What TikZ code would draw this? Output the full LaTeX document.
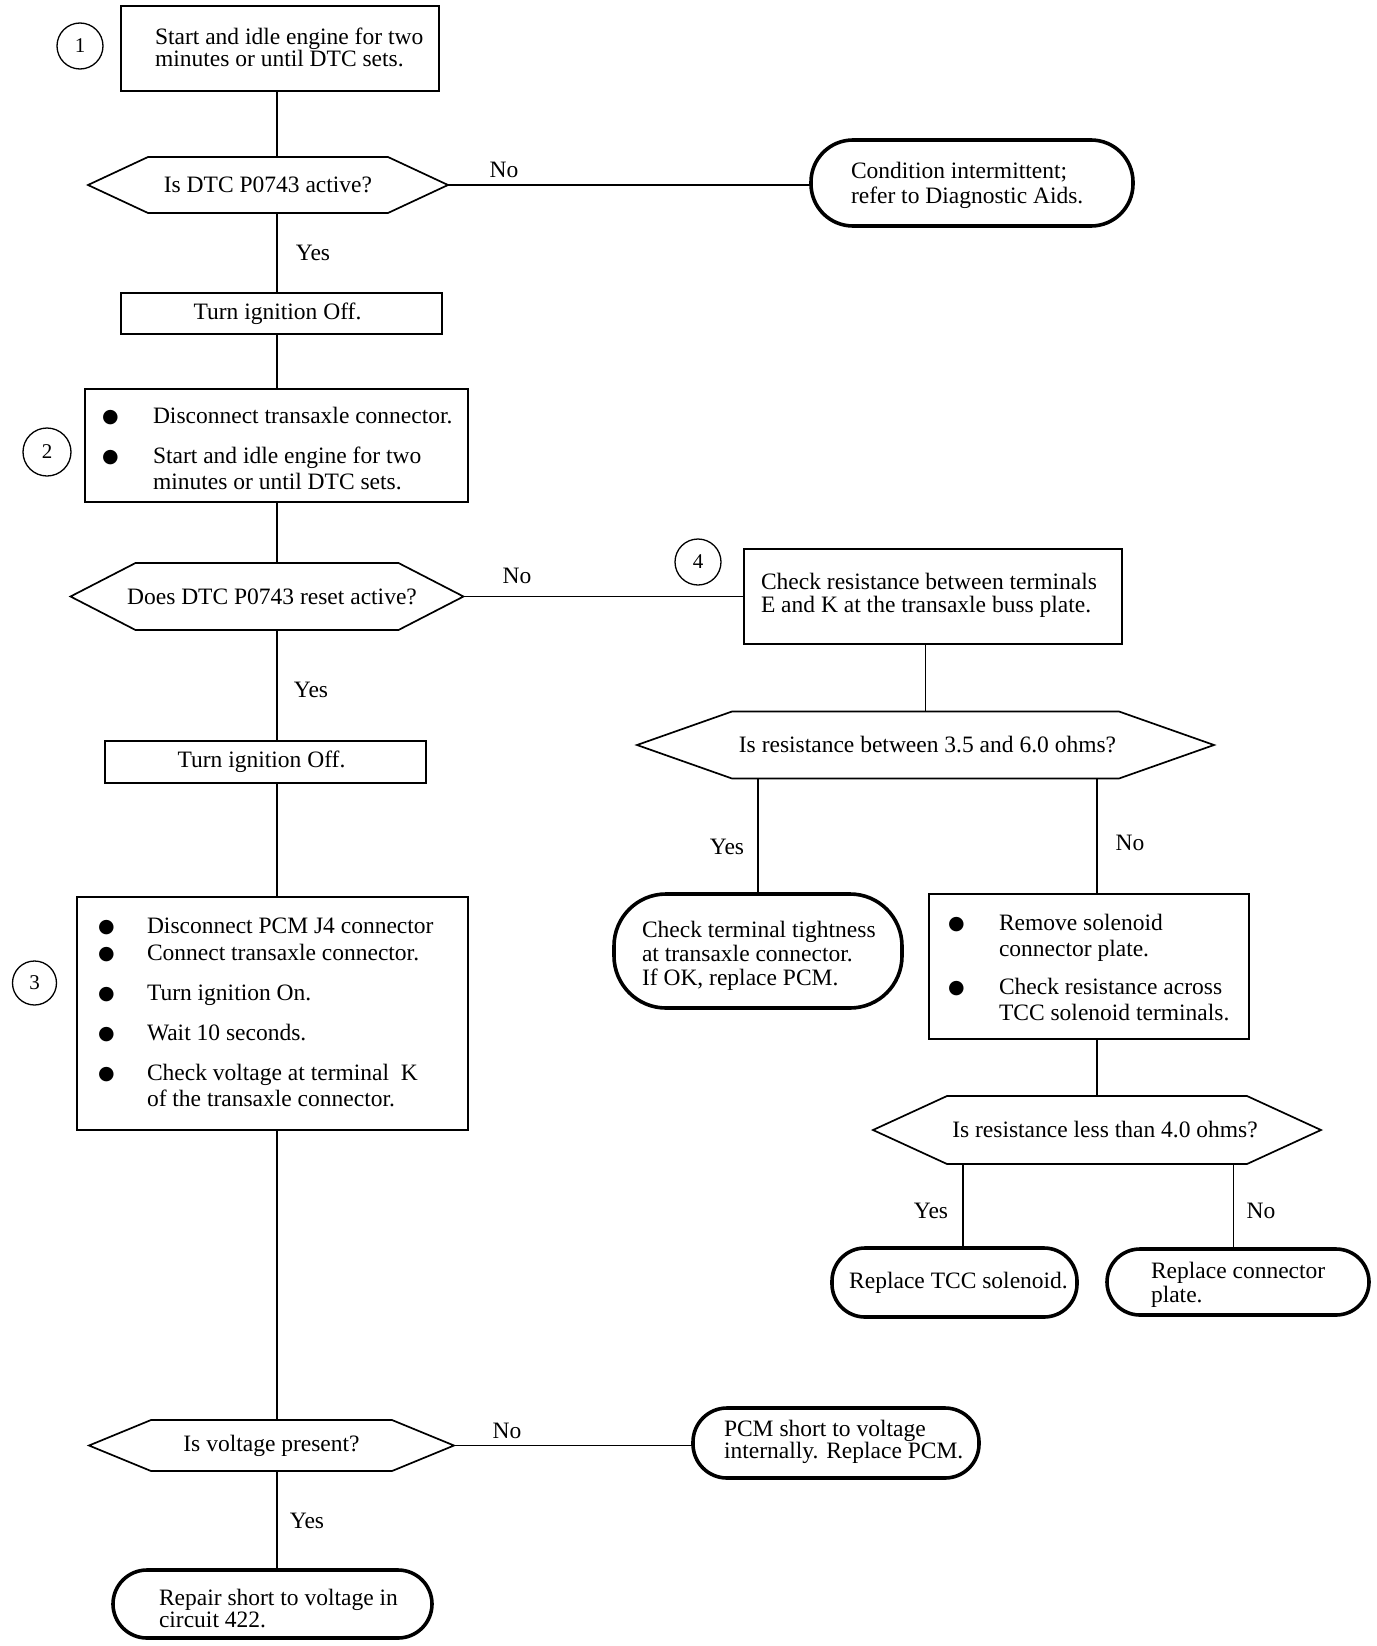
\documentclass[tikz,border=0pt]{standalone}
\usepackage{fontspec}
\setmainfont{Liberation Serif}
\newfontfamily\bulfont{DejaVu Sans}
\newcommand{\bul}{\raisebox{1pt}{\bulfont\fontsize{19}{19}\selectfont ●}}
\tikzset{
  txt/.style={font=\fontsize{23.5}{#1}\selectfont, inner sep=0pt, outer sep=0pt, align=left},
  txt/.default=24,
  conn/.style={line width=1.6pt},
  stepbox/.style={draw, line width=1.7pt, inner sep=0pt, outer sep=0pt, font=\fontsize{23.5}{24}\selectfont},
  term/.style={draw, line width=3.6pt, inner sep=0pt, outer sep=0pt, rounded corners=#1, font=\fontsize{23.5}{24}\selectfont},
  hexnode/.style={inner sep=0pt, outer sep=0pt, font=\fontsize{23.5}{24}\selectfont},
  hexline/.style={line width=1.7pt, line join=miter},
  numcirc/.style={draw, circle, line width=1.3pt, inner sep=0pt, minimum size=#1, font=\fontsize{21}{21}\selectfont},
  lbl/.style={inner sep=0pt, font=\fontsize{23.5}{24}\selectfont}
}
\newcommand{\hexdraw}[2]{\draw[hexline] (#1.west) -- ([xshift=#2pt]#1.north west) -- ([xshift=-#2pt]#1.north east) -- (#1.east) -- ([xshift=-#2pt]#1.south east) -- ([xshift=#2pt]#1.south west) -- cycle;}
\begin{document}
\begin{tikzpicture}[x=1pt,y=-1pt]
\useasboundingbox (0,0) rectangle (1376,1646);
\fill[white] (0,0) rectangle (1376,1646);

% spine and branch coordinates
\coordinate (sp) at (277,0);
\coordinate (y4) at (963,0);
\coordinate (n4) at (1233.5,0);

% boxes
\node[stepbox, minimum width=318pt, minimum height=85pt] (b1) at (280,48.5) {};
\node[txt=22, anchor=west] (b1t) at (155,47) {Start and idle engine for two\\minutes or until DTC sets.};
\node[numcirc=46pt] (c1) at (80,46) {1};

\node[hexnode, minimum width=360pt, minimum height=56pt] (h1) at (268,185) {Is DTC P0743 active?};
\hexdraw{h1}{60}

\node[term=42pt, minimum width=322pt, minimum height=86pt] (t1) at (972,183) {};
\node[txt=25, anchor=west] (t1t) at (851,185) {Condition intermittent;\\refer to Diagnostic Aids.};

\node[stepbox, minimum width=321pt, minimum height=41pt] (off1) at (281.5,313.5) {\hspace*{-8pt}Turn ignition Off.};

\node[stepbox, minimum width=383pt, minimum height=113pt] (b2) at (276.5,445.5) {};
\node[txt=26, anchor=west] (b2t) at (102,451) {\begin{tabular}{@{}p{51pt}@{}l@{}}
\bul & Disconnect transaxle connector.\\[13.6pt]
\bul & Start and idle engine for two\\
 & minutes or until DTC sets.
\end{tabular}};
\node[numcirc=48pt] (c2) at (47,452) {2};

\node[hexnode, minimum width=393pt, minimum height=67pt] (h2) at (267,596.5) {\hspace*{10pt}Does DTC P0743 reset active?};
\hexdraw{h2}{65}

\node[numcirc=46pt] (c4) at (698,562) {4};
\node[stepbox, minimum width=378pt, minimum height=95pt] (b4) at (933,596.5) {};
\node[txt=23, anchor=west] (b4t) at (761,595) {Check resistance between terminals\\E and K at the transaxle buss plate.};

\node[hexnode, minimum width=577pt, minimum height=67pt] (h3) at (925.5,745) {\hspace*{4pt}Is resistance between 3.5 and 6.0 ohms?};
\hexdraw{h3}{95}

\node[term=52pt, minimum width=288pt, minimum height=114pt] (t2) at (758,951) {};
\node[txt=24, anchor=west] (t2t) at (642,956) {Check terminal tightness\\at transaxle connector.\\If OK, replace PCM.};

\node[stepbox, minimum width=320pt, minimum height=145pt] (b5) at (1089,966.5) {};
\node[txt=26, anchor=west] (b5t) at (948,970) {\begin{tabular}{@{}p{51pt}@{}l@{}}
\bul & Remove solenoid\\
 & connector plate.\\[12pt]
\bul & Check resistance across\\
 & TCC solenoid terminals.
\end{tabular}};

\node[hexnode, minimum width=448pt, minimum height=68pt] (h4) at (1097,1130) {\hspace*{16pt}Is resistance less than 4.0 ohms?};
\hexdraw{h4}{74}

\node[term=33pt, minimum width=245pt, minimum height=69pt] (t3) at (954.5,1282.5) {\hspace*{8pt}Replace TCC solenoid.};
\node[term=33pt, minimum width=262pt, minimum height=66pt] (t4) at (1238,1282) {};
\node[txt=24, anchor=west] (t4t) at (1151,1285) {Replace connector\\plate.};

\node[stepbox, minimum width=321pt, minimum height=42pt] (off2) at (265.5,762) {\hspace*{-8pt}Turn ignition Off.};

\node[stepbox, minimum width=391pt, minimum height=233pt] (b3) at (272.5,1013.5) {};
\node[txt=26.5, anchor=west] (b3t) at (98,1015) {\begin{tabular}{@{}p{49pt}@{}l@{}}
\bul & Disconnect PCM J4 connector\\
\bul & Connect transaxle connector.\\[13.5pt]
\bul & Turn ignition On.\\[13.5pt]
\bul & Wait 10 seconds.\\[13.5pt]
\bul & Check voltage at terminal\ \ K\\
 & of the transaxle connector.
\end{tabular}};
\node[numcirc=44pt] (c3) at (34.5,983) {3};

\node[hexnode, minimum width=365pt, minimum height=51pt] (h5) at (271.5,1445.5) {Is voltage present?};
\hexdraw{h5}{62}

\node[term=34pt, minimum width=286pt, minimum height=70pt] (t5) at (836,1443) {};
\node[txt=22, anchor=west] (t5t) at (724,1442) {PCM short to voltage\\internally. Replace PCM.};

\node[term=34pt, minimum width=319pt, minimum height=68pt] (t6) at (272.5,1604) {};
\node[txt=22, anchor=west] (t6t) at (159,1608) {Repair short to voltage in\\circuit 422.};

% labels
\node[lbl] (l1) at (504,170) {No};
\node[lbl] (l2) at (313,253) {Yes};
\node[lbl] (l3) at (517,576) {No};
\node[lbl] (l4) at (311,690) {Yes};
\node[lbl] (l5) at (727,847) {Yes};
\node[lbl] (l6) at (1130,843) {No};
\node[lbl] (l7) at (931,1211) {Yes};
\node[lbl] (l8) at (1261,1211) {No};
\node[lbl] (l9) at (507,1431) {No};
\node[lbl] (l10) at (307,1521) {Yes};

% connectors
\draw[conn] (b1.south -| sp) -- (h1.north -| sp);
\draw[conn] (h1.south -| sp) -- (off1.north -| sp);
\draw[conn] (off1.south -| sp) -- (b2.north -| sp);
\draw[conn] (b2.south -| sp) -- (h2.north -| sp);
\draw[conn] (h2.south -| sp) -- (off2.north -| sp);
\draw[conn] (off2.south -| sp) -- (b3.north -| sp);
\draw[conn] (b3.south -| sp) -- (h5.north -| sp);
\draw[conn] (h5.south -| sp) -- (t6.north -| sp);
\draw[conn] (h1.east) -- (h1.east -| t1.west);
\draw[conn] (h2.east) -- (h2.east -| b4.west);
\draw[conn] (h5.east) -- (h5.east -| t5.west);
\draw[conn] (b4.south -| h3.north) -- (h3.north);
\draw[conn] (h3.south -| t2.north) -- (t2.north);
\draw[conn] (h3.south -| h4.north) -- (h4.north |- b5.north);
\draw[conn] (b5.south -| h4.north) -- (h4.north);
\draw[conn] (h4.south -| y4) -- (t3.north -| y4);
\draw[conn] (h4.south -| n4) -- (t4.north -| n4);
\end{tikzpicture}
\end{document}
